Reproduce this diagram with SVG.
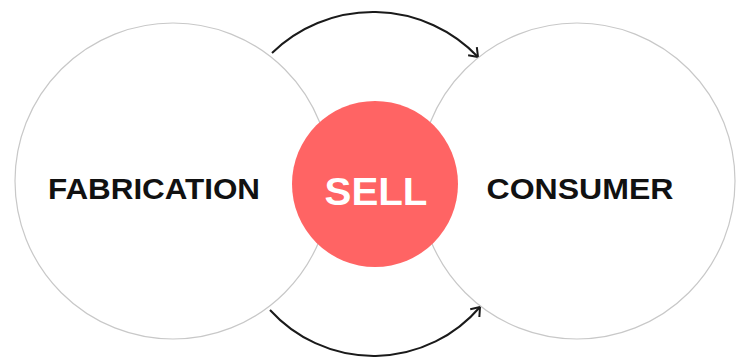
<svg xmlns="http://www.w3.org/2000/svg" width="736" height="360" viewBox="0 0 736 360">
<style>
.big{fill:#fff;stroke:#c8c8c8;stroke-width:1.2}
.lbl{font-family:"Liberation Sans",Arial,sans-serif;font-weight:bold;font-size:29px;fill:#111;text-anchor:middle}
.sell{font-family:"Liberation Sans",Arial,sans-serif;font-weight:bold;font-size:38px;fill:#fff;text-anchor:middle}
.conn{fill:none;stroke:#1a1a1a;stroke-width:2}
</style>
<defs>
<marker id="arr" markerWidth="14" markerHeight="14" refX="10" refY="7" orient="auto" markerUnits="userSpaceOnUse">
<path d="M2,1 L10,7 L2,13" fill="none" stroke="#1a1a1a" stroke-width="2"/>
</marker>
</defs>
<g id="connectors">
<path class="conn" d="M272,53 A145,145 0 0 1 478,57" marker-end="url(#arr)"/>
<path class="conn" d="M270,310 A140,140 0 0 0 480,307" marker-end="url(#arr)"/>
</g>
<g id="fabrication">
<circle class="big" cx="173" cy="181" r="158"/>
<text class="lbl" x="154" y="199" textLength="212" lengthAdjust="spacingAndGlyphs">FABRICATION</text>
</g>
<g id="consumer">
<circle class="big" cx="577" cy="181" r="158"/>
<text class="lbl" x="580" y="199" textLength="187" lengthAdjust="spacingAndGlyphs">CONSUMER</text>
</g>
<g id="sell">
<circle cx="375" cy="184" r="83" fill="#ff6464"/>
<text class="sell" x="376" y="205" textLength="103" lengthAdjust="spacingAndGlyphs">SELL</text>
</g>
</svg>
